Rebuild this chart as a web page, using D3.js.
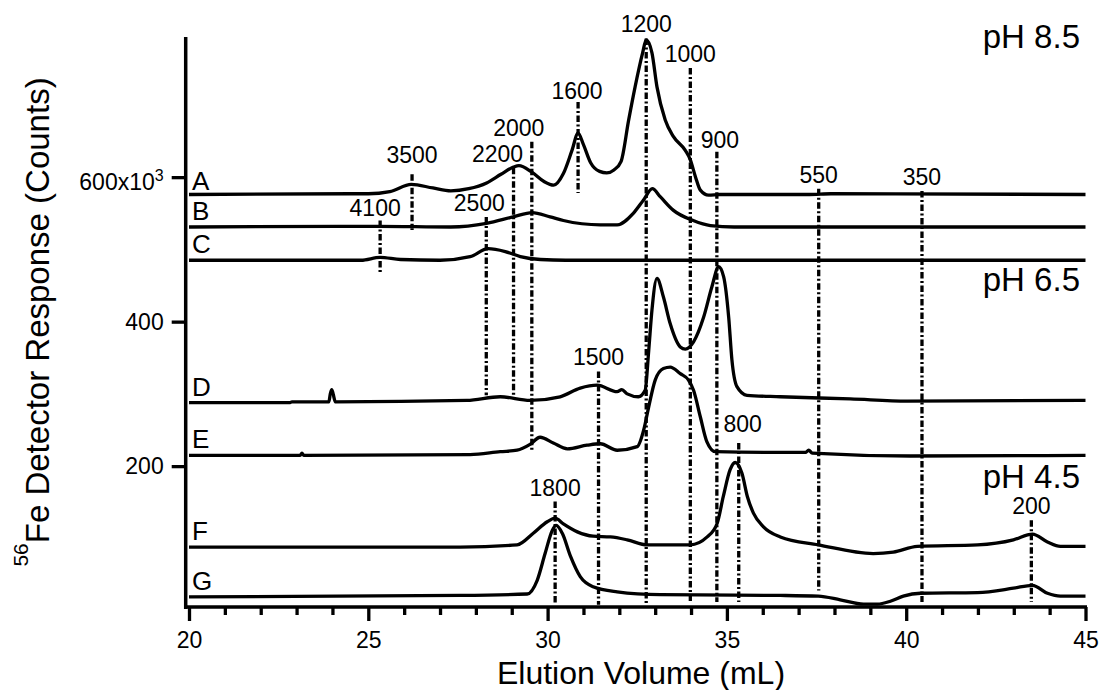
<!DOCTYPE html>
<html>
<head>
<meta charset="utf-8">
<script src="https://cdn.jsdelivr.net/npm/d3@7"></script>
<style>
  body { margin: 0; background: #fff; }
  svg { font-family: "Liberation Sans", Arial, Helvetica, sans-serif; }
  .trace { fill: none; stroke: #000; stroke-width: 3.3; stroke-linejoin: round; }
  .marker { stroke: #000; stroke-width: 3.3; stroke-dasharray: 6.5,2.5,2,2.5; }
  .axis text { font-size: 23px; fill: #000; }
  .axis line { stroke: #000; stroke-width: 3.3; }
</style>
</head>
<body>
<svg class="chart" width="1102" height="690"></svg>
<script>
// Elution traces, [volume (mL), 56Fe counts (x10^3)]
const traceA = [[20,576],[24.5,577],[25.0,577],[25.6,580],[26.2,590],[26.8,585],[27.3,581],[27.8,584],[28.3,592],[28.7,604],[29.05,614],[29.2,616],[29.56,607],[29.9,594],[30.17,589],[30.44,605],[30.68,637],[30.85,661],[31.0,645],[31.2,620],[31.45,608],[31.65,606],[31.85,610],[32.05,622],[32.26,679],[32.44,725],[32.65,772],[32.75,790],[32.91,772],[33.05,725],[33.28,679],[33.51,656],[33.84,637],[33.98,624],[34.12,601],[34.26,582],[34.49,575],[34.8,576],[37.3,576],[37.9,577],[45,576]];
const traceB = [[20,531],[25.3,532],[27.3,531],[28.3,536],[29.04,545],[29.57,551],[30.07,545],[30.44,540],[31.47,534],[31.94,534],[32.39,550],[32.67,568],[32.92,584],[33.14,573],[33.51,554],[34.06,540],[34.54,533],[35.2,531],[45,531]];
const traceC = [[20,485],[24.8,485],[25.33,489],[25.9,486],[27.0,485],[27.84,490],[28.34,501],[28.82,497],[29.24,490],[29.8,486],[30.5,485],[45,485]];
const traceD = [[20,288],[22.82,288],[22.87,289],[23.9,289],[23.94,300],[23.98,306],[24.02,300],[24.08,289],[27.75,291],[28.68,296],[29.51,291],[30.35,296],[30.91,308],[31.38,312],[31.94,303],[32.07,306],[32.22,300],[32.53,296],[32.72,305],[32.82,360],[32.91,416],[33.05,460],[33.23,434],[33.42,397],[33.7,365],[33.84,362],[34.07,372],[34.35,406],[34.58,448],[34.77,476],[34.91,462],[35.05,406],[35.14,347],[35.28,310],[35.56,298],[36.49,296],[38.44,293],[40.03,290],[45,291]];
const traceE = [[20,215],[23.1,215],[23.15,218],[23.2,215],[27.84,216],[28.68,220],[29.15,222],[29.51,230],[29.79,240],[30.16,232],[30.55,224],[31.1,229],[31.47,231],[31.94,222],[32.5,227],[32.68,250],[32.82,282],[33.0,319],[33.23,335],[33.42,337],[33.7,328],[33.93,319],[34.07,305],[34.26,268],[34.44,234],[34.68,220],[36.49,219],[37.19,219],[37.28,222],[37.38,218],[40.12,214],[45,215]];
const traceF = [[20,88],[27.56,88],[29.15,91],[29.6,107],[29.99,123],[30.21,128],[30.44,120],[30.83,109],[31.27,103],[31.75,102],[32.22,98],[32.78,91],[33.98,91],[34.45,102],[34.73,121],[34.9,158],[35.09,195],[35.23,205],[35.42,190],[35.57,158],[35.74,135],[36.02,116],[36.49,102],[37.55,91],[39.08,79],[39.64,81],[40.31,89],[41.99,91],[42.99,98],[43.52,106],[43.94,95],[44.3,89],[45,89]];
const traceG = [[20,19],[27.56,21],[29.43,23],[29.71,42],[29.93,79],[30.13,111],[30.24,118],[30.41,107],[30.64,75],[30.91,47],[31.27,33],[31.94,26],[33.14,22],[36.49,21],[37.55,20],[38.16,15],[38.81,9],[39.2,9],[39.56,13],[39.92,20],[40.4,24],[41.99,25],[42.99,31],[43.52,35],[43.94,24],[44.3,20],[45,20]];

const traceNames = ["A", "B", "C", "D", "E", "F", "G"];
const traces = [traceA, traceB, traceC, traceD, traceE, traceF, traceG];

// Molecular weight markers (dash-dot lines)
const markerLabels  = ["4100", "3500", "2500", "2200", "2000", "1600", "1200", "1000", "900", "550", "350", "1500", "1800", "800", "200"];
const markerVolumes = [25.33, 26.22, 28.29, 29.05, 29.56, 30.85, 32.75, 33.98, 34.72, 37.56, 40.44, 31.42, 30.21, 35.33, 43.49];
const markerTops    = [540, 604, 545, 613, 649, 704, 792, 751, 635, 584, 581, 331, 151, 232, 125];
const markerBottoms = [467, 527, 298, 296, 222, 578, 10, 10, 12, 28, 12, 8, 8, 12, 12];

const phLabels = ["pH 8.5", "pH 6.5", "pH 4.5"];

const xMajorTicks = [20, 25, 30, 35, 40, 45];
const xMinorTicks = d3.range(21, 45).filter(function(d){ return d % 5 != 0; });
const yTickValues = [200, 400, 600];

// layout only: label nudges in px and pH label baselines
const labelNudge = {"4100":[-5,2], "3500":[0,-5], "2500":[-7,0], "2200":[-16,0], "2000":[-13,0], "1600":[-1,3], "900":[3,2], "800":[4,-5]};
const phBaselines = [48, 291, 488];

let svg = d3.select(".chart");

let x = d3.scaleLinear().domain([20, 45]).range([189, 1085.5]);
let y = d3.scaleLinear().domain([5, 794]).range([607, 37]);

// Marker lines and their labels
let markers = svg.append("g").attr("class", "markers");
markers.selectAll("line")
  .data(markerLabels)
  .enter().append("line")
    .attr("class", "marker")
    .attr("x1", function(d,i){ return x(markerVolumes[i]); })
    .attr("x2", function(d,i){ return x(markerVolumes[i]); })
    .attr("y1", function(d,i){ return y(markerTops[i]); })
    .attr("y2", function(d,i){ return y(markerBottoms[i]); });
markers.selectAll("text")
  .data(markerLabels)
  .enter().append("text")
    .attr("x", function(d,i){ return x(markerVolumes[i]) + (labelNudge[d] ? labelNudge[d][0] : 0); })
    .attr("y", function(d,i){ return y(markerTops[i]) - 6 + (labelNudge[d] ? labelNudge[d][1] : 0); })
    .attr("text-anchor", "middle")
    .style("font-size", "23px")
    .text(function(d){ return d; });

// Traces
let line = d3.line()
  .x(function(d){ return x(d[0]); })
  .y(function(d){ return y(d[1]); })
  .curve(d3.curveMonotoneX);
svg.append("g").selectAll("path")
  .data(traces)
  .enter().append("path")
    .attr("class", "trace")
    .attr("d", line);
svg.append("g").selectAll("text")
  .data(traceNames)
  .enter().append("text")
    .attr("x", 192)
    .attr("y", function(d,i){ return y(traces[i][0][1]) - (i == 0 ? 4 : 7); })
    .style("font-size", "26px")
    .text(function(d){ return d; });

// pH labels
svg.append("g").selectAll("text")
  .data(phLabels)
  .enter().append("text")
    .attr("x", 1080)
    .attr("y", function(d,i){ return phBaselines[i]; })
    .attr("text-anchor", "end")
    .style("font-size", "33px")
    .text(function(d){ return d; });

// X axis, major and minor ticks
let xAxis = svg.append("g").attr("class", "axis").attr("transform", "translate(0,607)");
xAxis.call(d3.axisBottom(x).tickValues(xMajorTicks).tickSize(14).tickPadding(11));
xAxis.append("g").call(d3.axisBottom(x).tickValues(xMinorTicks).tickSize(8).tickFormat(""));
xAxis.selectAll(".domain").remove();
svg.append("line")
  .attr("x1", 184).attr("x2", 1087).attr("y1", 607).attr("y2", 607)
  .attr("stroke", "#000").attr("stroke-width", 3.5);

// Y axis
let yAxis = svg.append("g").attr("class", "axis").attr("transform", "translate(185.7,0)");
yAxis.call(d3.axisLeft(y).tickValues(yTickValues).tickSize(14).tickPadding(8));
yAxis.selectAll(".domain").remove();
yAxis.selectAll(".tick text").filter(function(d){ return d == 600; })
  .attr("dy", "0.55em")
  .text("600x10")
  .append("tspan").attr("dy", "-0.6em").style("font-size", "16px").text("3");
svg.append("line")
  .attr("x1", 185.7).attr("x2", 185.7).attr("y1", 37).attr("y2", 609)
  .attr("stroke", "#000").attr("stroke-width", 3.5);

// Axis titles
svg.append("text")
  .attr("x", 641).attr("y", 684)
  .attr("text-anchor", "middle")
  .style("font-size", "32px")
  .text("Elution Volume (mL)");
let yTitle = svg.append("text")
  .attr("transform", "translate(48.5,322) rotate(-90)")
  .attr("text-anchor", "middle")
  .style("font-size", "33px");
yTitle.append("tspan").attr("dy", -21).style("font-size", "21px").text("56");
yTitle.append("tspan").attr("dy", 21).text("Fe Detector Response (Counts)");
</script>
</body>
</html>
